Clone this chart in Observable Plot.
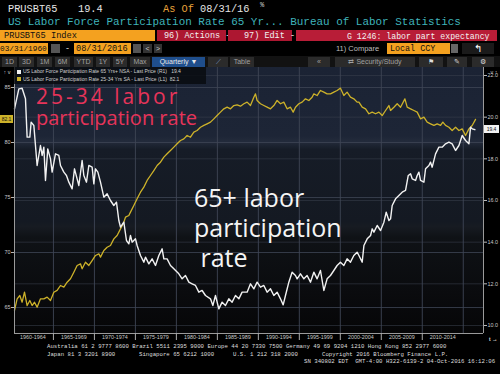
<!DOCTYPE html>
<html><head><meta charset="utf-8">
<script src="https://cdn.jsdelivr.net/npm/d3@7"></script>
<script src="https://cdn.jsdelivr.net/npm/@observablehq/plot@0.6"></script>
<style>
html,body{margin:0;padding:0;background:#000;}
#root{position:relative;width:500px;height:374px;overflow:hidden;background:#000;}
.a{position:absolute;white-space:pre;line-height:1;}
.m{font-family:"Liberation Mono","DejaVu Sans Mono",monospace;}
.s{font-family:"Liberation Sans",Arial,sans-serif;}
.btn{font-family:"Liberation Sans",Arial,sans-serif;font-size:7px;color:#a0a0a0;background:#2b2b2b;height:10px;line-height:10px;text-align:center;overflow:hidden;}
</style></head><body><div id="root"></div>
<script>
// ---------- data ----------
const periodLabels = ["1960-1964","1965-1969","1970-1974","1975-1979","1980-1984","1985-1989","1990-1994","1995-1999","2000-2004","2005-2009","2010-2014"];
const periodStarts = [1960,1965,1970,1975,1980,1985,1990,1995,2000,2005,2010];
const gridYears = [1965,1970,1975,1980,1985,1990,1995,2000,2005,2010,2015];
const leftTicks = [65,70,75,80,85];
const rightTicks = [10,12,14,16,18,20,22];

// US LFPR 65+ (NSA, right axis)
const whiteYears = [1960.25,1960.78,1961.18,1961.59,1961.79,1962.12,1962.28,1962.61,1963.01,1963.42,1963.62,1963.83,1964.03,1964.31,1964.64,1964.84,1965.25,1965.66,1965.86,1966.27,1966.59,1966.88,1967.28,1967.57,1967.89,1968.10,1968.50,1968.71,1969.03,1969.32,1969.72,1969.93,1970.13,1970.42,1970.74,1971.15,1971.55,1971.96,1972.37,1972.69,1972.98,1973.18,1973.59,1973.91,1974.20,1974.40,1974.60,1975.01,1975.21,1975.62,1976.03,1976.23,1976.64,1977.04,1977.45,1977.86,1978.26,1978.47,1978.87,1979.28,1979.69,1980.30,1980.70,1981.11,1981.52,1981.92,1982.33,1982.74,1983.14,1983.55,1984.16,1984.45,1984.77,1985.18,1985.58,1985.99,1986.40,1986.80,1987.21,1987.62,1988.02,1988.63,1989.04,1989.45,1989.85,1990.26,1990.67,1991.07,1991.48,1991.89,1992.29,1992.70,1993.03,1993.31,1993.72,1994.12,1994.53,1994.73,1995.14,1995.55,1995.95,1996.36,1996.77,1997.17,1997.58,1997.99,1998.39,1998.80,1999.21,1999.61,2000.02,2000.43,2000.83,2001.24,2001.65,2002.05,2002.27,2002.67,2002.88,2003.28,2003.69,2003.89,2004.10,2004.50,2004.91,2005.32,2005.60,2005.93,2006.13,2006.33,2006.74,2007.15,2007.55,2007.96,2008.29,2008.57,2008.77,2009.18,2009.38,2009.59,2009.79,2010.20,2010.40,2010.81,2011.01,2011.21,2011.62,2012.03,2012.43,2012.84,2013.25,2013.65,2014.06,2014.47,2014.87,2015.28,2015.69,2015.89,2016.09,2016.42];
const whiteVals = [20.40,21.36,21.39,20.88,19.04,19.04,19.76,19.60,17.68,18.64,18.16,18.56,16.96,18.48,18.00,17.36,18.24,18.16,17.68,17.36,17.20,16.88,16.56,17.52,17.04,16.72,17.92,17.20,16.88,17.68,17.60,16.80,17.52,17.36,16.88,16.16,16.32,16.00,15.76,15.92,15.04,14.72,14.96,14.08,13.92,14.32,14.00,14.16,13.84,13.36,13.04,13.28,12.96,13.20,12.88,13.36,13.68,13.20,13.20,12.88,12.72,12.48,12.24,12.40,12.08,12.00,11.92,11.60,11.68,11.44,11.28,10.96,11.44,10.80,11.12,10.96,11.28,11.12,11.44,11.28,11.60,11.60,12.00,11.76,12.08,11.84,11.92,11.60,11.76,11.44,11.60,11.28,10.99,11.44,12.08,12.56,12.40,12.24,12.48,12.24,12.40,12.08,12.56,12.24,12.64,11.68,12.24,12.40,12.64,12.88,13.04,12.88,13.20,13.04,13.36,13.52,13.36,13.04,13.84,14.16,14.32,14.64,14.48,14.80,14.56,14.96,15.44,15.04,15.12,15.76,16.08,16.24,16.40,16.48,17.20,17.28,17.04,16.96,17.20,17.36,16.96,16.88,17.52,17.68,17.84,17.60,18.24,18.56,18.56,18.72,18.80,18.72,18.40,18.64,19.12,18.88,18.72,19.52,19.44,19.40];

// US LFPR 25-34 (SA, left axis)
const yellowYears = [1960.25,1960.57,1960.90,1961.18,1961.47,1961.79,1962.12,1962.40,1962.69,1963.01,1963.42,1963.83,1964.23,1964.64,1965.05,1965.45,1965.86,1966.27,1966.67,1967.08,1967.49,1967.89,1968.30,1968.50,1968.91,1969.32,1969.72,1970.13,1970.54,1970.74,1971.15,1971.55,1971.96,1972.37,1972.77,1973.18,1973.59,1973.79,1974.20,1974.40,1974.81,1975.21,1975.62,1976.03,1976.43,1976.84,1977.25,1977.65,1978.06,1978.47,1978.87,1979.28,1979.69,1980.09,1980.50,1980.91,1981.31,1981.72,1982.13,1982.53,1982.94,1983.35,1983.75,1984.16,1984.57,1984.97,1985.38,1985.79,1986.19,1986.60,1987.01,1987.41,1987.82,1988.23,1988.63,1989.04,1989.45,1989.65,1989.85,1990.26,1990.67,1991.07,1991.48,1991.89,1992.29,1992.70,1993.11,1993.51,1993.92,1994.25,1994.53,1994.94,1995.34,1995.75,1996.16,1996.56,1996.77,1997.17,1997.58,1997.99,1998.39,1998.80,1999.21,1999.61,2000.02,2000.43,2000.83,2001.24,2001.65,2002.05,2002.27,2002.67,2003.08,2003.49,2003.89,2004.30,2004.71,2005.11,2005.52,2005.93,2006.13,2006.54,2006.94,2007.35,2007.88,2008.16,2008.57,2008.98,2009.38,2009.79,2010.20,2010.60,2011.01,2011.42,2011.82,2012.23,2012.51,2012.84,2013.25,2013.65,2014.06,2014.47,2014.87,2015.28,2015.69,2016.09,2016.50];
const yellowVals = [64.73,65.79,66.09,65.48,66.39,65.18,65.64,65.18,65.48,65.03,65.79,65.79,65.94,65.64,66.39,66.55,67.00,66.85,67.30,67.61,68.21,68.82,68.97,68.52,69.12,68.82,69.27,69.73,69.88,69.58,70.18,70.48,70.64,71.24,71.55,72.15,72.76,73.21,73.36,73.67,74.27,74.88,75.48,75.94,76.55,77.00,77.45,77.91,78.21,78.67,78.97,79.27,79.58,79.88,80.18,80.33,80.64,80.48,80.94,81.09,81.39,81.55,81.70,81.85,82.15,82.45,82.76,83.06,83.21,83.06,83.36,83.42,83.30,83.52,83.67,83.36,84.12,84.42,83.82,83.52,83.36,83.21,83.06,83.36,83.82,83.52,83.67,83.06,83.21,82.76,83.21,83.52,83.67,83.97,83.82,84.12,84.42,84.27,84.73,84.58,84.42,84.42,84.58,84.73,84.94,84.27,84.58,84.12,83.97,83.67,83.67,83.21,83.06,82.61,82.76,82.61,82.76,82.45,82.91,83.36,82.91,83.21,83.52,83.21,83.97,83.21,83.06,82.91,82.76,82.15,82.30,81.85,81.70,81.55,81.70,81.55,81.85,81.55,81.39,81.09,81.39,81.09,81.24,80.64,81.24,81.55,82.10];

const whiteLast = 19.4, yellowLast = 82.1;

// ---------- layout helpers ----------
const root = document.getElementById("root");
function el(left, top, css, text, cls) {
  const d = document.createElement("div");
  d.className = "a " + (cls || "");
  d.style.left = left + "px"; d.style.top = top + "px";
  Object.assign(d.style, css || {});
  if (text != null) d.textContent = text;
  root.appendChild(d);
  return d;
}
const ORANGE = "#f4a11f", RED = "#ad1731", RED2 = "#b81d37";

// Row 1
el(8, 3.5, {fontSize:"10.3px", color:"#e6e6e6"}, "PRUSBT65", "m");
el(78, 3.5, {fontSize:"10.3px", color:"#e6e6e6"}, "19.4", "m");
el(163, 3.5, {fontSize:"10.3px", color:"#e8a33a"}, "As Of", "m");
el(200, 3.5, {fontSize:"10.3px", color:"#e6e6e6"}, "08/31/16", "m");
el(260, 2, {fontSize:"7px", color:"#d0d0d0"}, "%", "m");
// Row 2
el(8, 17, {fontSize:"10.95px", color:"#3fb3bb"}, "US Labor Force Participation Rate 65 Yr... Bureau of Labor Statistics", "m");
// Row 3
el(0, 30, {width:"155px", height:"11px", background:ORANGE});
el(4, 30.5, {fontSize:"8.7px", color:"#111", lineHeight:"11px"}, "PRUSBT65 Index", "m");
el(157, 30, {width:"69px", height:"11px", background:RED});
el(164, 30.5, {fontSize:"8.5px", color:"#f2f2f2", lineHeight:"11px"}, "96) Actions -", "m");
el(228, 30, {width:"64px", height:"11px", background:RED});
el(244, 30.5, {fontSize:"8.5px", color:"#f2f2f2", lineHeight:"11px"}, "97) Edit -", "m");
el(296, 30, {width:"201px", height:"11px", background:RED2});
el(347, 30.5, {fontSize:"8.2px", color:"#f2f2f2", lineHeight:"11px"}, "G 1246: labor part expectancy", "m");
// Row 4
el(0, 43, {width:"48px", height:"11px", background:ORANGE});
el(0, 43.5, {fontSize:"7.8px", color:"#111", lineHeight:"11px"}, "03/31/1960", "m");
el(51, 44, {width:"9px", height:"9px", background:"#555"});
el(65, 43.5, {fontSize:"8.4px", color:"#ddd", lineHeight:"11px"}, "-", "m");
el(74, 43, {width:"57px", height:"11px", background:ORANGE});
el(76, 43.5, {fontSize:"8.6px", color:"#111", lineHeight:"11px"}, "08/31/2016", "m");
el(133, 44, {width:"8px", height:"9px", background:"#555"});
el(143, 44, {width:"9px", height:"9px", background:"#333", color:"#ccc", fontSize:"7px", lineHeight:"9px", textAlign:"center"}, "<", "s");
el(154, 44, {width:"8px", height:"9px", background:"#333", color:"#ccc", fontSize:"7px", lineHeight:"9px", textAlign:"center"}, ">", "s");
el(336, 44, {fontSize:"7.5px", color:"#bdbdbd", lineHeight:"10px"}, "11) Compare", "s");
el(387, 43, {width:"63px", height:"11px", background:ORANGE});
el(390, 43.5, {fontSize:"8.4px", color:"#111", lineHeight:"11px"}, "Local CCY", "m");
el(451, 44, {width:"7px", height:"9px", background:"#666"});
el(462, 43, {width:"32px", height:"11px", background:"#1a1a1a", color:"#fff", fontSize:"10px", lineHeight:"11px", textAlign:"center", overflow:"hidden"}, "↰", "s");
// Row 5 toolbar
el(0, 56, {width:"500px", height:"11px", background:"#121212"});
const tb = [["1D",2,15],["3D",19,15],["1M",37,15],["6M",55,15],["YTD",74,19],["1Y",96,14],["5Y",113,14],["Max",130,20]];
tb.forEach(([t,x,w]) => el(x, 56.5, {width:w+"px"}, t, "btn"));
el(152, 56.5, {width:"53px", background:"#1f4e8c", color:"#e8e8e8"}, "Quarterly ▼", "btn");
el(208, 56.5, {width:"20px", color:"#7fa0d0"}, "⟋", "btn");
el(230, 56.5, {width:"24px"}, "Table", "btn");
el(308, 56.5, {width:"22px"}, "«", "btn");
el(335, 56.5, {width:"80px"}, "⇄ Security/Study", "btn");
el(419, 56.5, {width:"24px", color:"#ddd"}, "⚑", "btn");
el(447, 56.5, {width:"20px", color:"#ddd"}, "✎", "btn");
el(472, 56.5, {width:"22px", color:"#ddd", fontSize:"6.5px"}, "⚙", "btn");

// ---------- chart ----------
const CH_TOP = 67;
el(14, CH_TOP, {width:"469px", height:"266px",
  background:"linear-gradient(#1b2334 0%, #1d2536 26%, #232b3b 28%, #161c27 31%, #141922 58%, #171b22 60%, #0f1216 64%, #0a0b0e 85%, #060607 100%)"});

const rightToLeft = d3.scaleLinear([10, 22], [63.364, 86.091]);
const whiteData = whiteYears.map((t, i) => ({t, v: whiteVals[i]}));
const yellowData = yellowYears.map((t, i) => ({t, v: yellowVals[i]}));
const xDomain = [1960.25, 2017.47];
const yDomain = [62.636, 86.818];
const centers = periodStarts.map(s => s + 2.5);
const axisColor = "#c9c9c9";

const chart = Plot.plot({
  width: 500, height: 276,
  marginLeft: 14, marginRight: 17, marginTop: 0, marginBottom: 10,
  style: {background: "none", color: axisColor, fontFamily: "Liberation Sans, Arial, sans-serif", fontSize: "5.4px", overflow: "visible"},
  x: {domain: xDomain, axis: null},
  y: {domain: yDomain, axis: null},
  marks: [
    Plot.ruleY(leftTicks, {stroke: "#3f4656", strokeWidth: 0.8}),
    Plot.ruleY(rightTicks.map(rightToLeft), {stroke: "#3a404e", strokeWidth: 0.7, strokeOpacity: 0.8}),
    Plot.ruleX(gridYears, {stroke: "#3f4656", strokeWidth: 0.9}),
    Plot.line(yellowData, {x: "t", y: "v", stroke: "#cdb22a", strokeWidth: 1.3}),
    Plot.line(whiteData, {x: "t", y: d => rightToLeft(d.v), stroke: "#f2f2f2", strokeWidth: 1.4}),
    Plot.ruleX([xDomain[0]], {stroke: "#9a9a9a", strokeWidth: 1}),
    Plot.ruleX([xDomain[1]], {stroke: "#9a9a9a", strokeWidth: 1}),
    Plot.ruleY([yDomain[0]], {stroke: "#9a9a9a", strokeWidth: 1}),
    Plot.axisY(leftTicks, {anchor: "left", tickSize: 3, tickPadding: 1, stroke: "#bbb", fill: axisColor}),
    Plot.axisY(rightTicks.map(rightToLeft), {anchor: "right", tickSize: 3, tickPadding: 1, stroke: "#bbb", fill: axisColor,
      tickFormat: d => rightToLeft.invert(d).toFixed(1)}),
    Plot.axisX(centers, {anchor: "bottom", tickSize: 0, tickPadding: 2, fill: axisColor,
      tickFormat: d => periodLabels[centers.indexOf(d)]}),
    Plot.axisX(gridYears.slice(0, 10), {anchor: "bottom", tickSize: 7, stroke: "#aaa", tickFormat: () => ""})
  ]
});
const holder = el(0, CH_TOP, {});
holder.appendChild(chart);

const ys = chart.scale("y");
// legend
el(14, CH_TOP, {width:"192px", height:"17px", background:"rgba(8,10,14,0.8)"});
el(17, CH_TOP + 2.5, {width:"4px", height:"4px", background:"#f2f2f2"});
el(17, CH_TOP + 10, {width:"4px", height:"4px", background:"#cdb22a"});
el(23, CH_TOP + 2, {fontSize:"5px", color:"#cfcfcf"}, "US Labor Force Participation Rate 65 Yrs+ NSA - Last Price (R1)   " + whiteLast.toFixed(1), "s");
el(23, CH_TOP + 9.5, {fontSize:"5px", color:"#cfcfcf"}, "US Labor Force Participation Rate 25-34 Yrs SA - Last Price (L1)  " + yellowLast.toFixed(1), "s");

// value tags
const yTagL = CH_TOP + ys.apply(yellowLast);
el(0, yTagL - 4, {width:"13px", height:"8px", background:"#cdb22a", color:"#111", fontSize:"5px", lineHeight:"8px", textAlign:"center"}, yellowLast.toFixed(1), "s");
const yTagR = CH_TOP + ys.apply(rightToLeft(whiteLast));
el(484, yTagR - 4, {width:"15px", height:"8px", background:"#f2f2f2", color:"#111", fontSize:"5px", lineHeight:"8px", textAlign:"center"}, whiteLast.toFixed(1), "s");

// annotations
const ann = {fontFamily:"'Open Sans','Noto Sans',sans-serif", lineHeight:"16px"};
el(36, 88, Object.assign({fontSize:"21px", color:"#e6345a", letterSpacing:"3px"}, ann), "25-34 labor");
el(36, 110, Object.assign({fontSize:"20px", color:"#e6345a"}, ann), "participation rate");
const annW = {fontFamily:"'Open Sans','Noto Sans',sans-serif", lineHeight:"20px", fontSize:"25px", color:"#f5f5f5"};
el(194, 187, annW, "65+ labor");
el(194, 217, annW, "participation");
el(194, 247, annW, " rate");

// footer
const ft = {fontSize:"5.7px", color:"#dedede", lineHeight:"7px"};
el(47, 343, ft, "Australia 61 2 9777 8600 Brazil 5511 2395 9000 Europe 44 20 7330 7500 Germany 49 69 9204 1210 Hong Kong 852 2977 6000", "m");
el(47, 350.5, ft, "Japan 81 3 3201 8900", "m");
el(139, 350.5, ft, "Singapore 65 6212 1000", "m");
el(233, 350.5, ft, "U.S. 1 212 318 2000", "m");
el(322, 350.5, ft, "Copyright 2016 Bloomberg Finance L.P.", "m");
el(304, 358, ft, "SN 340802 EDT  GMT-4:00 H322-6139-2 04-Oct-2016 16:12:06", "m");
</script></body></html>
